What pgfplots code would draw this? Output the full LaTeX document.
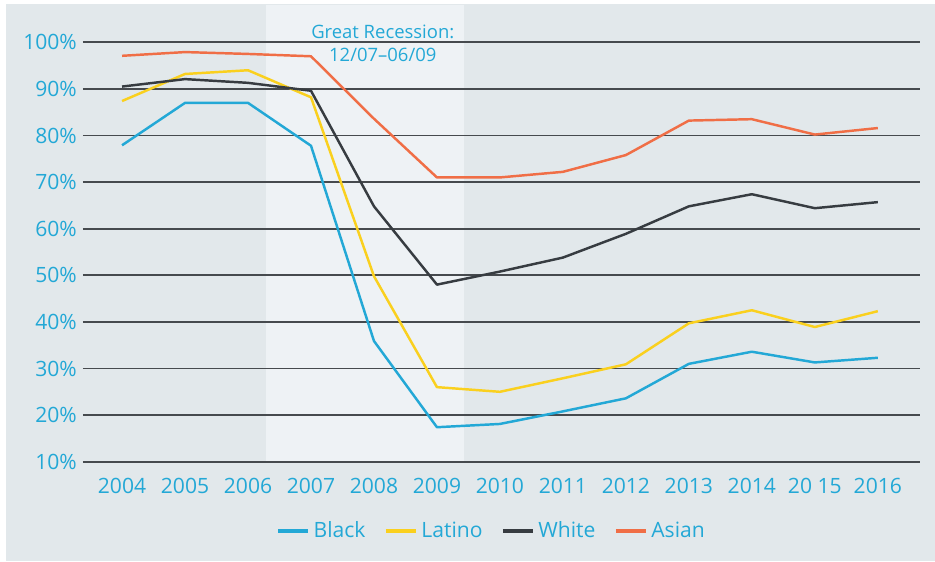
\documentclass[border=0pt]{standalone}
\usepackage{pgfplots}
\pgfplotsset{compat=1.18}
\usepackage{fontspec}
\setmainfont{Open Sans}
\definecolor{cblue}{RGB}{35,168,214}
\definecolor{cyellow}{RGB}{250,208,30}
\definecolor{cgray}{RGB}{55,60,65}
\definecolor{corange}{RGB}{240,110,70}
\definecolor{gridc}{RGB}{70,74,78}
\definecolor{panelc}{RGB}{226,232,235}
\definecolor{recshade}{RGB}{238,242,245}

\begin{document}
\begin{tikzpicture}
\path (-1.66cm,-1.986cm) rectangle (17.04cm,9.234cm);
\begin{axis}[
  set layers, clip=false,
  scale only axis, width=16.74cm, height=9.134cm,
  xmin=2003.38, xmax=2016.67, ymin=10, ymax=108,
  axis line style={draw=none}, major tick length=0pt,
  ytick={10,20,...,100},
  xtick={2004,2005,...,2016},
  xticklabels={2004,2005,2006,2007,2008,2009,2010,2011,2012,2013,2014,20 15,2016},
  yticklabel={\pgfmathprintnumber{\tick}\%},
  ymajorgrids, grid style={color=gridc, line width=1.1pt},
  tick label style={font=\fontsize{12}{14}\selectfont, text=cblue},
  xticklabel style={yshift=-6pt},
  /pgf/number format/assume math mode=true,
  legend columns=4,
  legend style={at={(0.489,-0.152)}, anchor=center, draw=none, fill=none,
    text=cblue, font=\fontsize{12}{14}\selectfont,
    /tikz/every even column/.append style={column sep=0.3cm}},
  legend image code/.code={\draw[#1, line width=2.2pt] (0cm,0cm) -- (0.6cm,0cm);},
  every axis plot/.append style={line width=1.4pt, line join=round}
]
\begin{pgfonlayer}{axis background}
  \fill[panelc] ([shift={(-1.54cm,-1.986cm)}]rel axis cs:0,0) rectangle ([shift={(0.3cm,0.02cm)}]rel axis cs:1,1);
  \fill[recshade] (axis cs:2006.29,10) rectangle (axis cs:2009.43,108);
\end{pgfonlayer}

\addplot[color=cblue] coordinates {
  (2004,77.9) (2005,87.0) (2006,87.0) (2007,77.8) (2008,35.9) (2009,17.4)
  (2010,18.1) (2011,20.8) (2012,23.6) (2013,31.0) (2014,33.6) (2015,31.3) (2016,32.3)};
\addlegendentry{Black}
\addplot[color=cyellow] coordinates {
  (2004,87.4) (2005,93.2) (2006,94.0) (2007,88.2) (2008,49.8) (2009,26.0)
  (2010,25.0) (2011,27.9) (2012,30.9) (2013,39.7) (2014,42.5) (2015,38.9) (2016,42.3)};
\addlegendentry{Latino}
\addplot[color=cgray] coordinates {
  (2004,90.5) (2005,92.1) (2006,91.3) (2007,89.6) (2008,64.8) (2009,48.0)
  (2010,50.8) (2011,53.8) (2012,58.9) (2013,64.8) (2014,67.4) (2015,64.4) (2016,65.7)};
\addlegendentry{White}
\addplot[color=corange] coordinates {
  (2004,97.1) (2005,97.9) (2006,97.5) (2007,97.0) (2008,83.6) (2009,71.0)
  (2010,71.0) (2011,72.2) (2012,75.8) (2013,83.2) (2014,83.5) (2015,80.2) (2016,81.6)};
\addlegendentry{Asian}

\node[text=cblue, align=center, font=\fontsize{10.5}{13}\selectfont] at (axis cs:2008.14,99.8) {Great Recession:\\12/07–06/09};
\end{axis}
\end{tikzpicture}
\end{document}
